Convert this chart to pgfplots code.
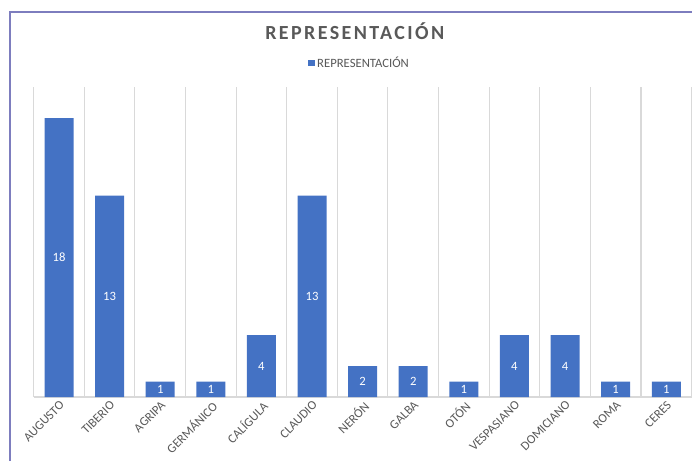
\documentclass[border=0pt]{standalone}
\usepackage{pgfplots}
\pgfplotsset{compat=1.18}
\usepackage{fontspec}
\setmainfont{Carlito}
\definecolor{barra}{HTML}{4472C4}
\definecolor{texto}{HTML}{595959}
\definecolor{rejilla}{HTML}{D9D9D9}
\definecolor{marco}{RGB}{125,125,190}

\begin{document}
\begin{tikzpicture}[x=0.75pt,y=0.75pt] % 1 unidad = 1 px
\useasboundingbox (0,0) rectangle (692,-461);
\draw[marco, line width=1.1pt] (10,-461) -- (10,-12) -- (692,-12); % marco
\begin{axis}[
  at={(25.275pt,-297.75pt)}, anchor=south west,
  scale only axis, width=493.4pt, height=232.5pt,
  ybar, bar width=21.75pt,
  xmin=-0.5, xmax=12.5, ymin=0, ymax=20,
  axis x line=bottom, axis y line=none,
  x axis line style={-, rejilla, line width=0.8pt},
  ytick=\empty,
  xtick={0,...,12},
  xticklabels={AUGUSTO, TIBERIO, AGRIPA, GERMÁNICO, CALÍGULA, CLAUDIO, NERÓN, GALBA, OTÓN, VESPASIANO, DOMICIANO, ROMA, CERES},
  major tick length=0pt, minor tick length=0pt,
  minor xtick={-0.5,0.5,...,12.5},
  xminorgrids, minor grid style={rejilla, line width=0.8pt},
  x tick label style={rotate=45, anchor=north east, inner sep=1.5pt, text=texto,
    font=\fontsize{9.5}{11}\selectfont},
  title={REPRESENTACIÓN},
  title style={at={(0.488,1.154)}, anchor=center, text=texto,
    font=\fontsize{15}{18}\selectfont\bfseries\addfontfeature{LetterSpace=12}},
  legend style={at={(0.496,1.077)}, anchor=center, draw=none, text=texto,
    font=\fontsize{9.5}{11}\selectfont},
  legend image code/.code={\fill[barra] (0pt,-2.3pt) rectangle (4.6pt,2.3pt);},
  /pgf/number format/assume math mode=true,
  nodes near coords,
  visualization depends on={rawy \as \rawy},
  every node near coord/.append style={anchor=center, text=white,
    font=\fontsize{9.5}{11}\selectfont,
    shift={(axis direction cs:0,-\rawy/2)}},
]
\addplot[fill=barra, draw=none] coordinates {
  (0,18) (1,13) (2,1) (3,1) (4,4) (5,13) (6,2)
  (7,2) (8,1) (9,4) (10,4) (11,1) (12,1)
};
\addlegendentry{REPRESENTACIÓN}
\end{axis}
\end{tikzpicture}
\end{document}
